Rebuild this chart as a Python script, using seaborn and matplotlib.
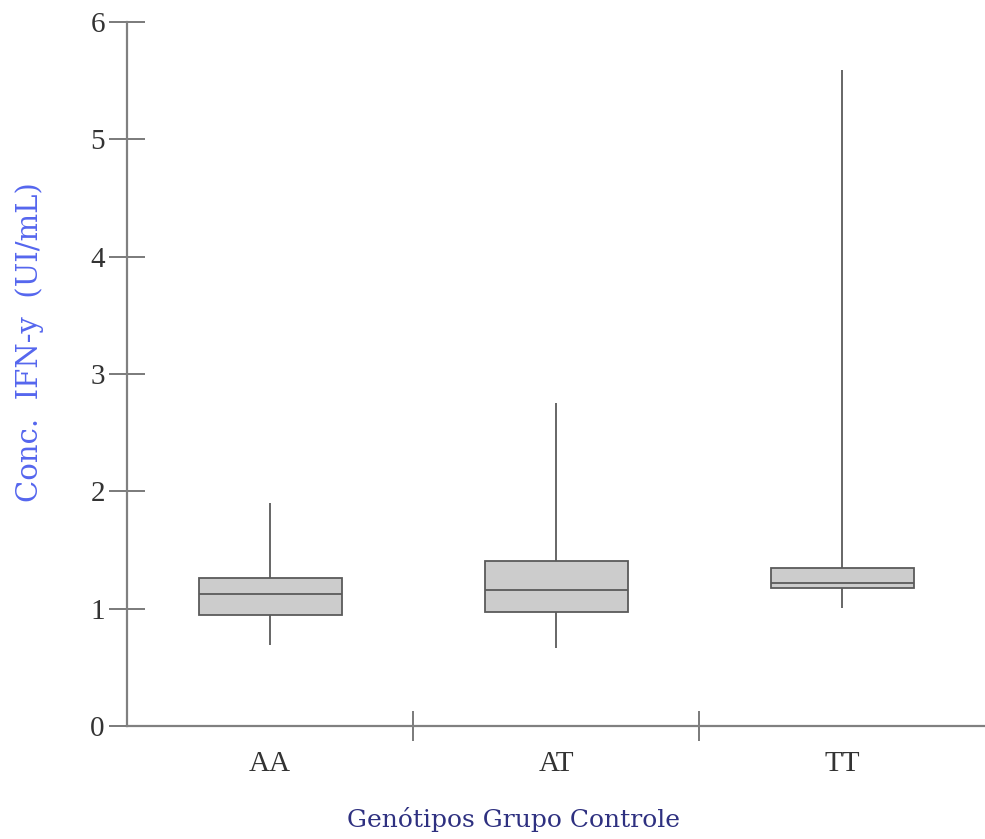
import matplotlib
matplotlib.use("Agg")
import matplotlib.pyplot as plt
import seaborn as sns
import pandas as pd

# five-number summaries: min, Q1, median, Q3, max
genotypes = ["AA", "AT", "TT"]
aa_values = [0.69, 0.946, 1.128, 1.259, 1.903]
at_values = [0.662, 0.969, 1.156, 1.409, 2.755]
tt_values = [1.006, 1.174, 1.216, 1.347, 5.59]
y_ticks = [0, 1, 2, 3, 4, 5, 6]


def main():
    rows = []
    for g, vals in zip(genotypes, [aa_values, at_values, tt_values]):
        for v in vals:
            rows.append({"Genotipo": g, "Conc": v})
    df = pd.DataFrame(rows)

    sns.set_theme(style="white")
    plt.rcParams["font.family"] = ["Liberation Serif", "DejaVu Serif"]

    fig = plt.figure(figsize=(9.85, 8.39), dpi=100)
    ax = fig.add_axes([0.129, 0.1347, 0.871, 0.8391])

    sns.boxplot(data=df, x="Genotipo", y="Conc", order=genotypes, ax=ax,
                whis=(0, 100), width=0.5, color="#cccccc", saturation=1,
                linecolor="#5a5a5a", linewidth=1.3, showcaps=False,
                showfliers=False)

    ax.set_xlim(-0.5, 2.5)
    ax.set_ylim(0, 6)
    ax.set_yticks(y_ticks)
    ax.set_yticklabels([str(t) for t in y_ticks], fontsize=21, color="#333333")

    # category labels without ticks, separators as ticks between them
    ax.set_xticks([0.5, 1.5])
    ax.set_xticklabels([])
    ax.set_xticks([0, 1, 2], minor=True)
    ax.set_xticklabels(genotypes, minor=True, fontsize=21, color="#333333")
    ax.tick_params(axis="x", which="minor", bottom=True, length=0, pad=18)
    ax.tick_params(axis="x", which="major", bottom=True, direction="inout",
                   length=22, width=1.3, color="#707070")
    ax.tick_params(axis="y", left=True, direction="inout", length=26,
                   width=1.3, color="#707070", pad=3)

    for side in ["top", "right"]:
        ax.spines[side].set_visible(False)
    for side in ["left", "bottom"]:
        ax.spines[side].set_color("#808080")
        ax.spines[side].set_linewidth(1.6)

    ax.set_ylabel("Conc.  IFN-y  (UI/mL)", fontsize=21, color="#5566ee",
                  family="DejaVu Serif")
    ax.yaxis.set_label_coords(-0.097, 0.545)
    ax.set_xlabel("Genótipos Grupo Controle", fontsize=18, color="#2e3080",
                  family="DejaVu Serif")
    ax.xaxis.set_label_coords(0.45, -0.115)

    fig.savefig("out.png", dpi=100)
    plt.close(fig)


if __name__ == "__main__":
    main()
